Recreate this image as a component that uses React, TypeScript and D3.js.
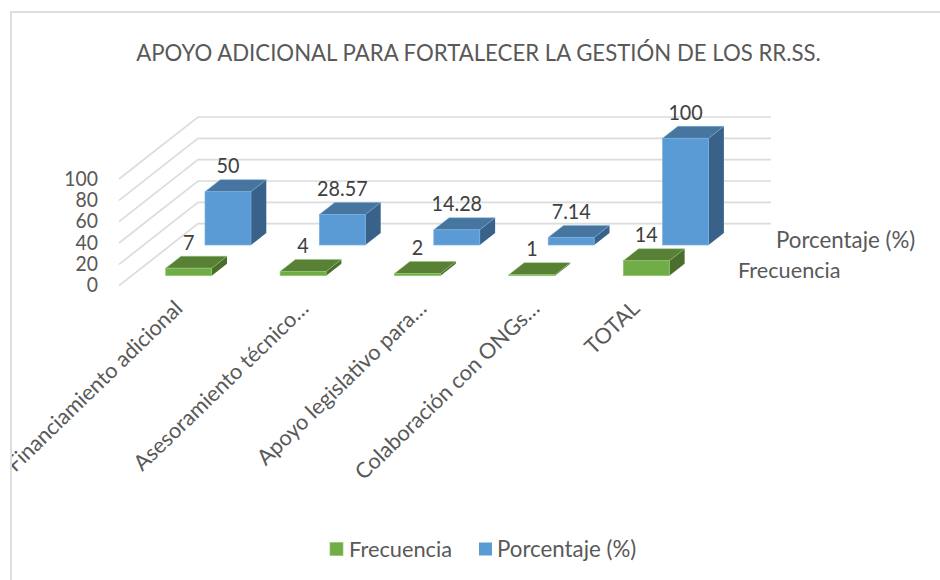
import React from "react";
import * as d3 from "d3";

const title = "APOYO ADICIONAL PARA FORTALECER LA GESTIÓN DE LOS RR.SS.";
const categories = ["Financiamiento adicional", "Asesoramiento técnico…", "Apoyo legislativo para…", "Colaboración con ONGs…", "TOTAL"];
const frecuencia = [7, 4, 2, 1, 14];
const porcentaje = [50, 28.57, 14.28, 7.14, 100];
const frecuenciaLabels = ["7", "4", "2", "1", "14"];
const porcentajeLabels = ["50", "28.57", "14.28", "7.14", "100"];
const yTicks = [0, 20, 40, 60, 80, 100];
const seriesNames = ["Frecuencia", "Porcentaje (%)"];

const FONT = "Lato, Carlito, sans-serif";
const TEXT = "#404040";
const MUTED = "#595959";
const GRID = "#dcdcdc";

// front-plane value scale and category scale
const y = d3.scaleLinear().domain([0, 100]).range([285.7, 179]);
const x = d3.scaleBand<number>().domain(d3.range(5)).range([131.5, 703.5]).padding(0);
const BAR_W = 46;
const DEPTH = [15.3, -12] as const;
const WALL = [79, -62] as const; // floor depth from front to back wall

function Bar({ i, v, label, ox, oy, front, top, side, border, lx, ly }: any) {
  const bandW = x.bandwidth();
  const x0 = x(i)! + (bandW - BAR_W) / 2 + ox;
  const base = y(0) + oy;
  const h = y(0) - y(v);
  const yt = base - h;
  const [dx, dy] = DEPTH;
  const x1 = x0 + BAR_W;
  return (
    <g>
      <polygon points={`${x1},${base} ${x1 + dx},${base + dy} ${x1 + dx},${yt + dy} ${x1},${yt}`} fill={side} />
      <polygon points={`${x0},${yt} ${x0 + dx},${yt + dy} ${x1 + dx},${yt + dy} ${x1},${yt}`} fill={top} stroke={border} strokeWidth={0.5} />
      <rect x={x0} y={yt} width={BAR_W} height={h} fill={front} stroke={border} strokeWidth={0.7} />
      <text transform={`translate(${x0 + lx},${yt + ly}) scale(0.9,1)`} fontSize={22} fill={TEXT} textAnchor="middle">{label}</text>
    </g>
  );
}

export default function App() {
  const gridPaths = yTicks.map((t) => {
    const yy = y(t);
    const fx = 119;
    return `M${fx},${yy}L${fx + WALL[0]},${yy + WALL[1]}L771,${yy + WALL[1]}`;
  });
  return (
    <svg width={940} height={580} style={{ position: "absolute", left: 0, top: 0, background: "#fff" }} fontFamily={FONT}>
      <defs>
        <clipPath id="frame"><rect x={12} y={12} width={928} height={568} /></clipPath>
      </defs>
      <rect x={11} y={12} width={960} height={600} fill="#fff" stroke="#dedede" strokeWidth={2} />
      <text x={478.5} y={60.5} textAnchor="middle" fontSize={22.2} fill={MUTED}>{title}</text>

      {gridPaths.map((d, i) => (
        <path key={i} d={d} fill="none" stroke={GRID} strokeWidth={1.7} />
      ))}
      {yTicks.map((t) => (
        <text key={t} transform={`translate(98,${y(t) + 6.5}) scale(0.9,1)`} textAnchor="end" fontSize={21.5} fill={MUTED}>{t}</text>
      ))}

      {porcentaje.map((v, i) => (
        <Bar key={i} i={i} v={v} label={porcentajeLabels[i]} ox={39.3} oy={-40.7} front="#5b9bd5" top="#4675a0" side="#386289" border="#79aedf" lx={23} ly={-18.5} />
      )).reverse()}
      {frecuencia.map((v, i) => (
        <Bar key={i} i={i} v={v} label={frecuenciaLabels[i]} ox={0} oy={-10} front="#70ad47" top="#588135" side="#4a6e2c" border="#93c572" lx={23} ly={-18.5} />
      ))}

      <text x={776} y={247.5} fontSize={22.3} fill={MUTED}>{seriesNames[1]}</text>
      <text x={738} y={277.5} fontSize={21.7} fill={MUTED}>{seriesNames[0]}</text>

      <g clipPath="url(#frame)">
        {categories.map((c, i) => {
          const ax = [184, 310, 428, 541, 641][i];
          return (
            <text key={c} transform={`translate(${ax},310) rotate(-44)`} textAnchor="end" fontSize={21.7} fill={MUTED}>{c}</text>
          );
        })}
      </g>

      <rect x={330} y={542.5} width={13} height={13} fill="#70ad47" stroke="#93c572" strokeWidth={0.7} />
      <text x={349} y={556.5} fontSize={21.8} fill={MUTED}>{seriesNames[0]}</text>
      <rect x={479} y={542.5} width={13} height={13} fill="#5b9bd5" />
      <text x={497} y={556.5} fontSize={22.3} fill={MUTED}>{seriesNames[1]}</text>
    </svg>
  );
}
